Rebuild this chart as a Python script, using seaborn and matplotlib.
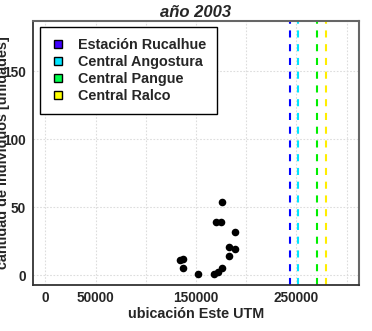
import matplotlib
matplotlib.use("Agg")
import matplotlib.pyplot as plt
import seaborn as sns
import pandas as pd
from matplotlib.lines import Line2D

# ---- data ----
utm_este = [134000, 137500, 137000, 152500, 168000, 171500, 176000,
            170000, 174500, 176000, 189000, 183000, 189000, 183000]
individuos = [11, 12, 5, 1, 1, 2, 5, 39, 39, 54, 32, 21, 19, 14]

estaciones = ["Estación Rucalhue", "Central Angostura", "Central Pangue", "Central Ralco"]
estacion_x = [244000, 251700, 270600, 279600]
legend_colors = ["#4000FF", "#00E5FF", "#00FF4D", "#FFFF00"]
line_colors = ["#0000FF", "#00E5FF", "#00EE00", "#FFEE00"]

x_ticks = [0, 50000, 100000, 150000, 200000, 250000, 300000]
x_ticklabels = ["0", "50000", "", "150000", "", "250000", ""]
y_ticks = [0, 50, 100, 150]
y_ticklabels = ["0", "50", "100", "150"]

df = pd.DataFrame({"x": utm_este, "y": individuos})

sns.set_style("white")
plt.rcParams["font.family"] = ["Liberation Sans", "DejaVu Sans"]
plt.rcParams["font.weight"] = "bold"

fig = plt.figure(figsize=(3.72, 3.31), dpi=100)
ax = fig.add_axes([0.0895, 0.139, 0.8747, 0.7985])

sns.scatterplot(data=df, x="x", y="y", ax=ax, color="black", s=30,
                edgecolor="black", linewidth=0, zorder=3)

for xv, c in zip(estacion_x, line_colors):
    ax.axvline(xv, color=c, lw=1.5, dashes=(3.4, 3.2), zorder=2)

ax.set_xlim(-12000, 312000)
ax.set_ylim(-7.2, 187.2)

ax.set_xticks(x_ticks)
ax.set_xticklabels(x_ticklabels, fontsize=9.8, fontweight="bold")
ax.set_yticks(y_ticks)
ax.set_yticklabels(y_ticklabels, fontsize=9.8, fontweight="bold")
ax.tick_params(axis="x", direction="out", length=4, width=1, color="#333333", pad=0.5)
ax.tick_params(axis="y", direction="out", length=3, width=1, color="#333333", pad=2.5)

ax.grid(True, color="#DDDDDD", linestyle=(0, (1.5, 1.5)), linewidth=0.8)
ax.set_axisbelow(True)

for side in ["left", "bottom"]:
    ax.spines[side].set_color("#333333")
    ax.spines[side].set_linewidth(1.3)
for side in ["top", "right"]:
    ax.spines[side].set_color("#666666")
    ax.spines[side].set_linewidth(1.5)

ax.set_title("año 2003", fontsize=12, fontweight="bold", fontstyle="italic", pad=2.5)
ax.set_xlabel("ubicación Este UTM", fontsize=10.4, fontweight="bold", labelpad=1)
ax.set_ylabel("cantidad de individuos [unidades]", fontsize=10.4, fontweight="bold")
ax.yaxis.set_label_coords(-0.072, 0.5)

handles = [Line2D([], [], marker="s", linestyle="none", markerfacecolor=c,
                  markeredgecolor="black", markeredgewidth=1.0, markersize=6.3)
           for c in legend_colors]
leg = ax.legend(handles, estaciones, loc="upper left", bbox_to_anchor=(0.0206, 0.977),
                prop={"size": 10.4, "weight": "bold"}, frameon=True, fancybox=False,
                borderpad=0.75, labelspacing=0.22, handlelength=1.0, handletextpad=0.9,
                borderaxespad=0, framealpha=1)
leg.get_frame().set_edgecolor("black")
leg.get_frame().set_linewidth(1.0)

fig.savefig("out.png", dpi=100)
